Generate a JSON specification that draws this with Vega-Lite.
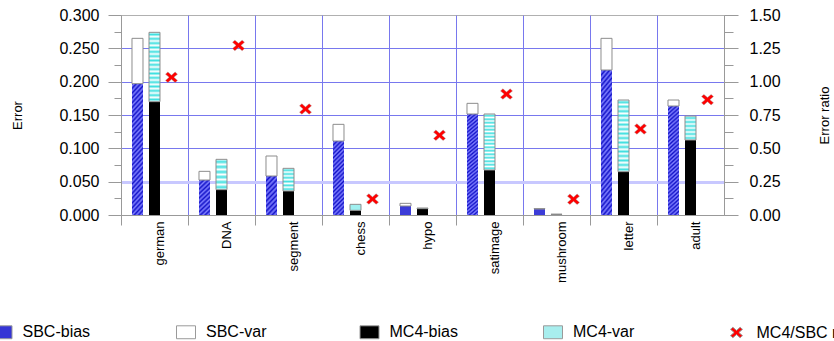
{
  "$schema": "https://vega.github.io/schema/vega-lite/v6.json",
  "width": 603,
  "height": 200,
  "autosize": "none",
  "padding": {"left": 121, "top": 15, "right": 110, "bottom": 126},
  "background": "white",
  "config": {
    "view": {"stroke": "#b0b0b0", "strokeWidth": 1},
    "axis": {"labelFont": "Liberation Sans", "titleFont": "Liberation Sans", "labelColor": "#000000", "titleColor": "#000000", "titleFontWeight": "normal"},
    "legend": {
      "orient": "none", "legendX": -128.5, "legendY": 307, "direction": "horizontal", "columns": 5, "gridAlign": "all", "columnPadding": 44.5,
      "symbolSize": 361, "labelFontSize": 16, "labelFont": "Liberation Sans", "labelOffset": 10, "labelLimit": 200, "labelColor": "#000000",
      "padding": 0, "symbolStrokeWidth": 1, "symbolOpacity": 1
    }
  },
  "datasets": {
    "bars": [
      {"dataset": "german", "slot": "SBC", "bias": 0.197, "total": 0.265},
      {"dataset": "german", "slot": "MC4", "bias": 0.170, "total": 0.274},
      {"dataset": "DNA", "slot": "SBC", "bias": 0.0525, "total": 0.0655},
      {"dataset": "DNA", "slot": "MC4", "bias": 0.038, "total": 0.0835},
      {"dataset": "segment", "slot": "SBC", "bias": 0.0585, "total": 0.0885},
      {"dataset": "segment", "slot": "MC4", "bias": 0.036, "total": 0.070},
      {"dataset": "chess", "slot": "SBC", "bias": 0.111, "total": 0.136},
      {"dataset": "chess", "slot": "MC4", "bias": 0.007, "total": 0.016},
      {"dataset": "hypo", "slot": "SBC", "bias": 0.0135, "total": 0.0175},
      {"dataset": "hypo", "slot": "MC4", "bias": 0.0095, "total": 0.0105},
      {"dataset": "satimage", "slot": "SBC", "bias": 0.1515, "total": 0.1675},
      {"dataset": "satimage", "slot": "MC4", "bias": 0.0675, "total": 0.1515},
      {"dataset": "mushroom", "slot": "SBC", "bias": 0.009, "total": 0.0095},
      {"dataset": "mushroom", "slot": "MC4", "bias": 0.001, "total": 0.0012},
      {"dataset": "letter", "slot": "SBC", "bias": 0.2175, "total": 0.265},
      {"dataset": "letter", "slot": "MC4", "bias": 0.065, "total": 0.1725},
      {"dataset": "adult", "slot": "SBC", "bias": 0.1635, "total": 0.1725},
      {"dataset": "adult", "slot": "MC4", "bias": 0.1125, "total": 0.1485}
    ],
    "ratio": [
      {"dataset": "german", "slot": "ratio", "series": "MC4/SBC ratio", "ratio": 1.033},
      {"dataset": "DNA", "slot": "ratio", "series": "MC4/SBC ratio", "ratio": 1.272},
      {"dataset": "segment", "slot": "ratio", "series": "MC4/SBC ratio", "ratio": 0.795},
      {"dataset": "chess", "slot": "ratio", "series": "MC4/SBC ratio", "ratio": 0.12},
      {"dataset": "hypo", "slot": "ratio", "series": "MC4/SBC ratio", "ratio": 0.598},
      {"dataset": "satimage", "slot": "ratio", "series": "MC4/SBC ratio", "ratio": 0.907},
      {"dataset": "mushroom", "slot": "ratio", "series": "MC4/SBC ratio", "ratio": 0.118},
      {"dataset": "letter", "slot": "ratio", "series": "MC4/SBC ratio", "ratio": 0.645},
      {"dataset": "adult", "slot": "ratio", "series": "MC4/SBC ratio", "ratio": 0.865}
    ]
  },
  "layer": [
    {
      "data": {"name": "bars"},
      "layer": [
        {
          "mark": {"type": "bar"},
          "encoding": {
            "x": {
              "field": "dataset", "type": "nominal",
              "scale": {"domain": ["german", "DNA", "segment", "chess", "hypo", "satimage", "mushroom", "letter", "adult"], "paddingInner": 0, "paddingOuter": 0},
              "axis": {
                "title": null, "bandPosition": 0, "grid": true,
                "gridColor": {"condition": {"test": "datum.value === 'german'", "value": "#b0b0b0"}, "value": "#7878ee"},
                "gridWidth": 1, "ticks": true, "tickSize": 10, "tickColor": "#999999",
                "domain": true, "domainColor": "#999999",
                "labelAngle": -90, "labelOffset": 5.5, "labelPadding": -4, "labelFontSize": 13, "labelFont": "Liberation Sans"
              }
            },
            "xOffset": {"field": "slot", "type": "nominal", "scale": {"domain": ["SBC", "MC4", "ratio"], "paddingInner": 0.353, "paddingOuter": 0.647}},
            "y": {
              "field": "bias", "type": "quantitative", "title": "Error",
              "scale": {"domain": [0, 0.3], "nice": false, "zero": true},
              "axis": {
                "title": "Error", "titleFontSize": 13, "titleAngle": 270, "titleX": -104, "titleY": 100, "titleAlign": "center", "titleBaseline": "middle",
                "values": [0, 0.025, 0.05, 0.075, 0.1, 0.125, 0.15, 0.175, 0.2, 0.225, 0.25, 0.275, 0.3],
                "labelExpr": "abs(datum.value*20-round(datum.value*20)) < 0.01 ? format(datum.value, '.3f') : ''",
                "labelFontSize": 16, "labelPadding": 9, "labelOverlap": false, "labelFlush": false,
                "tickSize": {"condition": {"test": "abs(datum.value*20-round(datum.value*20)) > 0.01", "value": 7}, "value": 13},
                "tickColor": "#999999", "domainColor": "#999999",
                "grid": true,
                "gridOpacity": {"condition": {"test": "datum.value < 0.001 || datum.value > 0.299 || abs(datum.value*20-round(datum.value*20)) > 0.01", "value": 0}, "value": 1},
                "gridColor": {"condition": {"test": "abs(datum.value-0.05) < 0.001", "value": "#c8c8ff"}, "value": "#7878ee"},
                "gridWidth": {"condition": {"test": "abs(datum.value-0.05) < 0.001", "value": 3}, "value": 1}
              }
            },
            "fill": {
              "condition": [
                {"test": "datum.slot === 'MC4'", "value": "#000000"},
                {"test": "datum.dataset === 'german' || datum.dataset === 'letter' || datum.dataset === 'adult' || datum.dataset === 'satimage'", "value": {"gradient": "linear", "x1": 0, "y1": 0, "x2": 0.099, "y2": 1.083, "stops": [
                  {"offset": 0, "color": "#1414c8"}, {"offset": 0.0167, "color": "#8080ff"}, {"offset": 0.0333, "color": "#1414c8"}, {"offset": 0.05, "color": "#8080ff"},
                  {"offset": 0.0667, "color": "#1414c8"}, {"offset": 0.0833, "color": "#8080ff"}, {"offset": 0.1, "color": "#1414c8"}, {"offset": 0.1167, "color": "#8080ff"},
                  {"offset": 0.1333, "color": "#1414c8"}, {"offset": 0.15, "color": "#8080ff"}, {"offset": 0.1667, "color": "#1414c8"}, {"offset": 0.1833, "color": "#8080ff"},
                  {"offset": 0.2, "color": "#1414c8"}, {"offset": 0.2167, "color": "#8080ff"}, {"offset": 0.2333, "color": "#1414c8"}, {"offset": 0.25, "color": "#8080ff"},
                  {"offset": 0.2667, "color": "#1414c8"}, {"offset": 0.2833, "color": "#8080ff"}, {"offset": 0.3, "color": "#1414c8"}, {"offset": 0.3167, "color": "#8080ff"},
                  {"offset": 0.3333, "color": "#1414c8"}, {"offset": 0.35, "color": "#8080ff"}, {"offset": 0.3667, "color": "#1414c8"}, {"offset": 0.3833, "color": "#8080ff"},
                  {"offset": 0.4, "color": "#1414c8"}, {"offset": 0.4167, "color": "#8080ff"}, {"offset": 0.4333, "color": "#1414c8"}, {"offset": 0.45, "color": "#8080ff"},
                  {"offset": 0.4667, "color": "#1414c8"}, {"offset": 0.4833, "color": "#8080ff"}, {"offset": 0.5, "color": "#1414c8"}, {"offset": 0.5167, "color": "#8080ff"},
                  {"offset": 0.5333, "color": "#1414c8"}, {"offset": 0.55, "color": "#8080ff"}, {"offset": 0.5667, "color": "#1414c8"}, {"offset": 0.5833, "color": "#8080ff"},
                  {"offset": 0.6, "color": "#1414c8"}, {"offset": 0.6167, "color": "#8080ff"}, {"offset": 0.6333, "color": "#1414c8"}, {"offset": 0.65, "color": "#8080ff"},
                  {"offset": 0.6667, "color": "#1414c8"}, {"offset": 0.6833, "color": "#8080ff"}, {"offset": 0.7, "color": "#1414c8"}, {"offset": 0.7167, "color": "#8080ff"},
                  {"offset": 0.7333, "color": "#1414c8"}, {"offset": 0.75, "color": "#8080ff"}, {"offset": 0.7667, "color": "#1414c8"}, {"offset": 0.7833, "color": "#8080ff"},
                  {"offset": 0.8, "color": "#1414c8"}, {"offset": 0.8167, "color": "#8080ff"}, {"offset": 0.8333, "color": "#1414c8"}, {"offset": 0.85, "color": "#8080ff"},
                  {"offset": 0.8667, "color": "#1414c8"}, {"offset": 0.8833, "color": "#8080ff"}, {"offset": 0.9, "color": "#1414c8"}, {"offset": 0.9167, "color": "#8080ff"},
                  {"offset": 0.9333, "color": "#1414c8"}, {"offset": 0.95, "color": "#8080ff"}, {"offset": 0.9667, "color": "#1414c8"}, {"offset": 0.9833, "color": "#8080ff"},
                  {"offset": 1, "color": "#1414c8"}
                ]}},
                {"test": "datum.dataset === 'chess'", "value": {"gradient": "linear", "x1": 0, "y1": 0, "x2": 0.167, "y2": 1.124, "stops": [
                  {"offset": 0, "color": "#1414c8"}, {"offset": 0.025, "color": "#8080ff"}, {"offset": 0.05, "color": "#1414c8"}, {"offset": 0.075, "color": "#8080ff"},
                  {"offset": 0.1, "color": "#1414c8"}, {"offset": 0.125, "color": "#8080ff"}, {"offset": 0.15, "color": "#1414c8"}, {"offset": 0.175, "color": "#8080ff"},
                  {"offset": 0.2, "color": "#1414c8"}, {"offset": 0.225, "color": "#8080ff"}, {"offset": 0.25, "color": "#1414c8"}, {"offset": 0.275, "color": "#8080ff"},
                  {"offset": 0.3, "color": "#1414c8"}, {"offset": 0.325, "color": "#8080ff"}, {"offset": 0.35, "color": "#1414c8"}, {"offset": 0.375, "color": "#8080ff"},
                  {"offset": 0.4, "color": "#1414c8"}, {"offset": 0.425, "color": "#8080ff"}, {"offset": 0.45, "color": "#1414c8"}, {"offset": 0.475, "color": "#8080ff"},
                  {"offset": 0.5, "color": "#1414c8"}, {"offset": 0.525, "color": "#8080ff"}, {"offset": 0.55, "color": "#1414c8"}, {"offset": 0.575, "color": "#8080ff"},
                  {"offset": 0.6, "color": "#1414c8"}, {"offset": 0.625, "color": "#8080ff"}, {"offset": 0.65, "color": "#1414c8"}, {"offset": 0.675, "color": "#8080ff"},
                  {"offset": 0.7, "color": "#1414c8"}, {"offset": 0.725, "color": "#8080ff"}, {"offset": 0.75, "color": "#1414c8"}, {"offset": 0.775, "color": "#8080ff"},
                  {"offset": 0.8, "color": "#1414c8"}, {"offset": 0.825, "color": "#8080ff"}, {"offset": 0.85, "color": "#1414c8"}, {"offset": 0.875, "color": "#8080ff"},
                  {"offset": 0.9, "color": "#1414c8"}, {"offset": 0.925, "color": "#8080ff"}, {"offset": 0.95, "color": "#1414c8"}, {"offset": 0.975, "color": "#8080ff"},
                  {"offset": 1, "color": "#1414c8"}
                ]}},
                {"test": "datum.dataset === 'DNA' || datum.dataset === 'segment'", "value": {"gradient": "linear", "x1": 0, "y1": 0, "x2": 0.354, "y2": 1.192, "stops": [
                  {"offset": 0, "color": "#1414c8"}, {"offset": 0.05, "color": "#8080ff"}, {"offset": 0.1, "color": "#1414c8"}, {"offset": 0.15, "color": "#8080ff"},
                  {"offset": 0.2, "color": "#1414c8"}, {"offset": 0.25, "color": "#8080ff"}, {"offset": 0.3, "color": "#1414c8"}, {"offset": 0.35, "color": "#8080ff"},
                  {"offset": 0.4, "color": "#1414c8"}, {"offset": 0.45, "color": "#8080ff"}, {"offset": 0.5, "color": "#1414c8"}, {"offset": 0.55, "color": "#8080ff"},
                  {"offset": 0.6, "color": "#1414c8"}, {"offset": 0.65, "color": "#8080ff"}, {"offset": 0.7, "color": "#1414c8"}, {"offset": 0.75, "color": "#8080ff"},
                  {"offset": 0.8, "color": "#1414c8"}, {"offset": 0.85, "color": "#8080ff"}, {"offset": 0.9, "color": "#1414c8"}, {"offset": 0.95, "color": "#8080ff"},
                  {"offset": 1, "color": "#1414c8"}
                ]}}
              ],
              "value": "#3c3cd8"
            }
          }
        },
        {
          "mark": {"type": "bar", "stroke": "#8c8c8c", "strokeWidth": 1},
          "encoding": {
            "x": {"field": "dataset", "type": "nominal"},
            "xOffset": {"field": "slot", "type": "nominal"},
            "y": {
              "field": "bias", "type": "quantitative", "title": "Error",
              "scale": {"domain": [0, 0.3], "nice": false, "zero": true},
              "axis": {
                "title": "Error", "titleFontSize": 13, "titleAngle": 270, "titleX": -104, "titleY": 100, "titleAlign": "center", "titleBaseline": "middle",
                "values": [0, 0.025, 0.05, 0.075, 0.1, 0.125, 0.15, 0.175, 0.2, 0.225, 0.25, 0.275, 0.3],
                "labelExpr": "abs(datum.value*20-round(datum.value*20)) < 0.01 ? format(datum.value, '.3f') : ''",
                "labelFontSize": 16, "labelPadding": 9, "labelOverlap": false, "labelFlush": false,
                "tickSize": {"condition": {"test": "abs(datum.value*20-round(datum.value*20)) > 0.01", "value": 7}, "value": 13},
                "tickColor": "#999999", "domainColor": "#999999",
                "grid": true,
                "gridOpacity": {"condition": {"test": "datum.value < 0.001 || datum.value > 0.299 || abs(datum.value*20-round(datum.value*20)) > 0.01", "value": 0}, "value": 1},
                "gridColor": {"condition": {"test": "abs(datum.value-0.05) < 0.001", "value": "#c8c8ff"}, "value": "#7878ee"},
                "gridWidth": {"condition": {"test": "abs(datum.value-0.05) < 0.001", "value": 3}, "value": 1}
              }
            },
            "y2": {"field": "total"},
            "fill": {
              "condition": [
                {"test": "datum.slot === 'SBC'", "value": "#ffffff"},
                {"test": "datum.dataset === 'german' || datum.dataset === 'letter' || datum.dataset === 'satimage'", "value": {"gradient": "linear", "x1": 0, "y1": 0, "x2": 0, "y2": 1, "stops": [
                  {"offset": 0, "color": "#ffffff"}, {"offset": 0.03125, "color": "#40e0e0"}, {"offset": 0.0625, "color": "#ffffff"}, {"offset": 0.09375, "color": "#40e0e0"},
                  {"offset": 0.125, "color": "#ffffff"}, {"offset": 0.15625, "color": "#40e0e0"}, {"offset": 0.1875, "color": "#ffffff"}, {"offset": 0.21875, "color": "#40e0e0"},
                  {"offset": 0.25, "color": "#ffffff"}, {"offset": 0.28125, "color": "#40e0e0"}, {"offset": 0.3125, "color": "#ffffff"}, {"offset": 0.34375, "color": "#40e0e0"},
                  {"offset": 0.375, "color": "#ffffff"}, {"offset": 0.40625, "color": "#40e0e0"}, {"offset": 0.4375, "color": "#ffffff"}, {"offset": 0.46875, "color": "#40e0e0"},
                  {"offset": 0.5, "color": "#ffffff"}, {"offset": 0.53125, "color": "#40e0e0"}, {"offset": 0.5625, "color": "#ffffff"}, {"offset": 0.59375, "color": "#40e0e0"},
                  {"offset": 0.625, "color": "#ffffff"}, {"offset": 0.65625, "color": "#40e0e0"}, {"offset": 0.6875, "color": "#ffffff"}, {"offset": 0.71875, "color": "#40e0e0"},
                  {"offset": 0.75, "color": "#ffffff"}, {"offset": 0.78125, "color": "#40e0e0"}, {"offset": 0.8125, "color": "#ffffff"}, {"offset": 0.84375, "color": "#40e0e0"},
                  {"offset": 0.875, "color": "#ffffff"}, {"offset": 0.90625, "color": "#40e0e0"}, {"offset": 0.9375, "color": "#ffffff"}, {"offset": 0.96875, "color": "#40e0e0"},
                  {"offset": 1, "color": "#ffffff"}
                ]}},
                {"test": "datum.dataset === 'DNA' || datum.dataset === 'segment' || datum.dataset === 'adult'", "value": {"gradient": "linear", "x1": 0, "y1": 0, "x2": 0, "y2": 1, "stops": [
                  {"offset": 0, "color": "#ffffff"}, {"offset": 0.0833, "color": "#40e0e0"}, {"offset": 0.1667, "color": "#ffffff"}, {"offset": 0.25, "color": "#40e0e0"},
                  {"offset": 0.3333, "color": "#ffffff"}, {"offset": 0.4167, "color": "#40e0e0"}, {"offset": 0.5, "color": "#ffffff"}, {"offset": 0.5833, "color": "#40e0e0"},
                  {"offset": 0.6667, "color": "#ffffff"}, {"offset": 0.75, "color": "#40e0e0"}, {"offset": 0.8333, "color": "#ffffff"}, {"offset": 0.9167, "color": "#40e0e0"},
                  {"offset": 1, "color": "#ffffff"}
                ]}}
              ],
              "value": "#a0f0f0"
            }
          }
        }
      ]
    },
    {
      "data": {"name": "ratio"},
      "mark": {"type": "point", "filled": true, "size": 361, "opacity": 1, "stroke": "#9a9a9a", "strokeWidth": 0.4},
      "encoding": {
        "x": {"field": "dataset", "type": "nominal"},
        "xOffset": {"field": "slot", "type": "nominal"},
        "y": {
          "field": "ratio", "type": "quantitative", "title": "Error ratio",
          "scale": {"domain": [0, 1.5], "nice": false, "zero": true},
          "axis": {
            "orient": "right", "title": "Error ratio", "titleFontSize": 13, "titleAngle": 270, "titleX": 100, "titleY": 100, "titleAlign": "center", "titleBaseline": "middle",
            "values": [0, 0.125, 0.25, 0.375, 0.5, 0.625, 0.75, 0.875, 1, 1.125, 1.25, 1.375, 1.5],
            "labelExpr": "abs(datum.value*4-round(datum.value*4)) < 0.01 ? format(datum.value, '.2f') : ''",
            "labelFontSize": 16, "labelPadding": 11, "labelOverlap": false, "labelFlush": false,
            "tickSize": {"condition": {"test": "abs(datum.value*4-round(datum.value*4)) > 0.01", "value": 9}, "value": 14},
            "tickColor": "#999999", "domainColor": "#999999", "grid": false
          }
        },
        "color": {
          "field": "series", "type": "nominal",
          "scale": {"domain": ["SBC-bias", "SBC-var", "MC4-bias", "MC4-var", "MC4/SBC ratio"], "range": ["#3535d5", "#ffffff", "#000000", "#a8eeee", "#ff0000"]},
          "legend": {"title": null}
        },
        "shape": {
          "field": "series", "type": "nominal",
          "scale": {"domain": ["SBC-bias", "SBC-var", "MC4-bias", "MC4-var", "MC4/SBC ratio"], "range": ["M-1,-0.68H1V0.68H-1Z", "M-1,-0.68H1V0.68H-1Z", "M-1,-0.68H1V0.68H-1Z", "M-1,-0.68H1V0.68H-1Z", "M-0.63,-0.33L-0.38,-0.55L0,-0.22L0.38,-0.55L0.63,-0.33L0.25,0L0.63,0.33L0.38,0.55L0,0.22L-0.38,0.55L-0.63,0.33L-0.25,0Z"]},
          "legend": {"title": null}
        }
      }
    }
  ],
  "resolve": {"scale": {"y": "independent"}, "axis": {"y": "independent"}}
}
